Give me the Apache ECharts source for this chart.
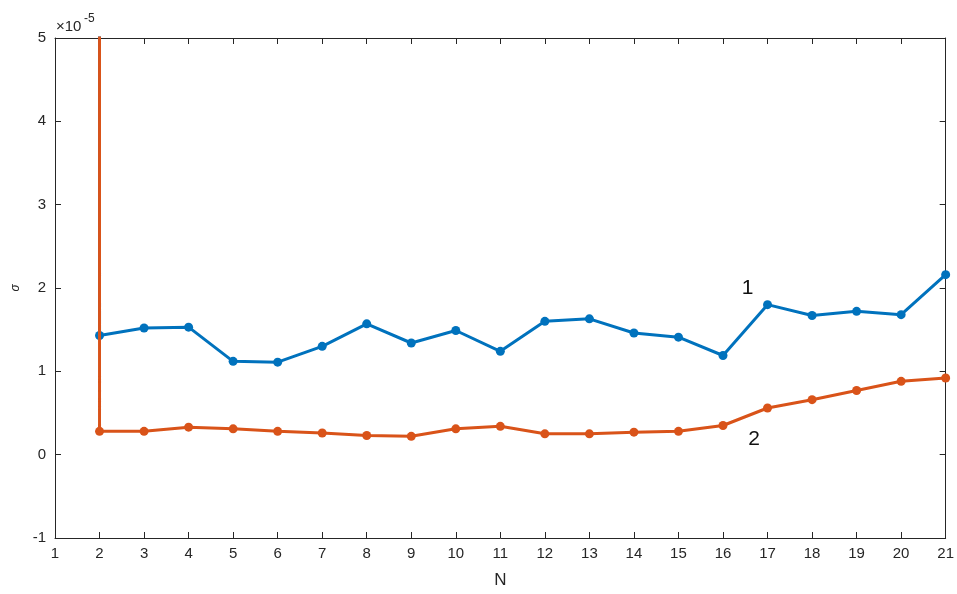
<!DOCTYPE html>
<html><head><meta charset="utf-8">
<script src="https://cdn.jsdelivr.net/npm/echarts@6/dist/echarts.min.js"></script>
<style>html,body{margin:0;padding:0;background:#fff}#c{width:957px;height:594px}</style>
</head><body><div id="c"></div>
<script>
// values in units of 1e-5
const N = [2, 2, 3, 4, 5, 6, 7, 8, 9, 10, 11, 12, 13, 14, 15, 16, 17, 18, 19, 20, 21];
const sigma1 = [60, 1.43, 1.52, 1.53, 1.12, 1.11, 1.30, 1.57, 1.34, 1.49, 1.24, 1.60, 1.63, 1.46, 1.41, 1.19, 1.80, 1.67, 1.72, 1.68, 2.16];
const sigma2 = [60, 0.28, 0.28, 0.33, 0.31, 0.28, 0.26, 0.23, 0.22, 0.31, 0.34, 0.25, 0.25, 0.27, 0.28, 0.35, 0.56, 0.66, 0.77, 0.88, 0.92];
const xTicks = [1,2,3,4,5,6,7,8,9,10,11,12,13,14,15,16,17,18,19,20,21];
const yTicks = [-1,0,1,2,3,4,5];
const labels = [{text:'1', x:16.55, y:2.0}, {text:'2', x:16.7, y:0.18}];

const font = "'Liberation Sans Narrow','Liberation Sans',Arial,sans-serif";
const tc = '#262626';
const mk = (xs, ys) => xs.map((x, i) => [x, ys[i]]);
const chart = echarts.init(document.getElementById('c'), null, {renderer:'canvas'});
const axisLine = {show:true, onZero:false, lineStyle:{color:tc, width:1}};
const tick = {show:true, inside:true, length:6, lineStyle:{color:tc}};
chart.setOption({
  animation:false,
  grid:{left:55, right:11, top:38, bottom:55, containLabel:false},
  xAxis:[
    {type:'value', min:1, max:21, interval:1, position:'bottom', axisLine, axisTick:tick,
     splitLine:{show:false}, axisLabel:{color:tc, fontFamily:font, fontSize:15, margin:8},
     name:'N', nameLocation:'middle', nameGap:34, nameTextStyle:{color:tc, fontFamily:font, fontSize:17}},
    {type:'value', min:1, max:21, interval:1, position:'top', axisLine, axisTick:tick,
     splitLine:{show:false}, axisLabel:{show:false}}
  ],
  yAxis:[
    {type:'value', min:-1, max:5, interval:1, position:'left', axisLine, axisTick:tick,
     splitLine:{show:false}, axisLabel:{color:tc, fontFamily:font, fontSize:15, margin:9},
     name:'σ', nameLocation:'middle', nameGap:22, nameRotate:90,
     nameTextStyle:{color:tc, fontFamily:font, fontSize:12, fontStyle:'italic'}},
    {type:'value', min:-1, max:5, interval:1, position:'right', axisLine, axisTick:tick,
     splitLine:{show:false}, axisLabel:{show:false}}
  ],
  series:[
    {type:'line', data:mk(N, sigma1), symbol:'circle', symbolSize:9, clip:true,
     lineStyle:{color:'#0072BD', width:3}, itemStyle:{color:'#0072BD'}, z:2},
    {type:'line', data:mk(N, sigma2), symbol:'circle', symbolSize:9, clip:true,
     lineStyle:{color:'#D95319', width:3}, itemStyle:{color:'#D95319'}, z:3,
     markPoint:{symbol:'rect', symbolSize:1, itemStyle:{color:'rgba(0,0,0,0)'},
       label:{show:true, color:'#111', fontFamily:"'Liberation Sans',Arial,sans-serif", fontSize:21, formatter:p=>p.name},
       data:labels.map(l=>({name:l.text, coord:[l.x, l.y]}))}}
  ],
  graphic:[
    {type:'text', left:56, top:19, style:{text:'×10', fill:tc, font:"15px "+font}},
    {type:'text', left:84, top:13, style:{text:'-5', fill:tc, font:"12px "+font}}
  ]
});
</script></body></html>
